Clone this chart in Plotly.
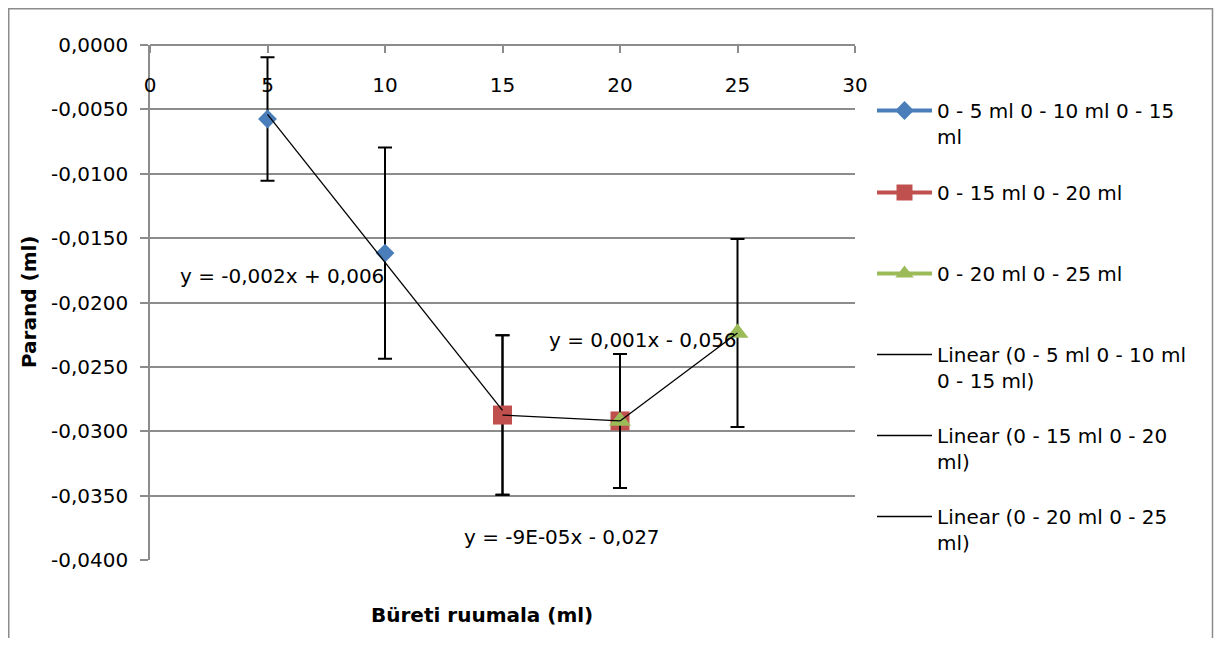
import numpy as np
import plotly.graph_objects as go

# ---- data ----
blue_name = "0 - 5 ml 0 - 10 ml 0 - 15<br>ml"
blue_x = [5, 10, 15]
blue_y = [-0.00575, -0.01616, -0.02874]
blue_err = [0.0048, 0.0082, 0.0062]

red_name = "0 - 15 ml 0 - 20 ml"
red_x = [15, 20]
red_y = [-0.02874, -0.0292]
red_err = [0.0062, 0.0052]

green_name = "0 - 20 ml 0 - 25 ml"
green_x = [20, 25]
green_y = [-0.0292, -0.02237]
green_err = [0.0052, 0.0073]

lin_names = ["Linear (0 - 5 ml 0 - 10 ml<br>0 - 15 ml)",
             "Linear (0 - 15 ml 0 - 20<br>ml)",
             "Linear (0 - 20 ml 0 - 25<br>ml)"]
eq_texts = ["y = -0,002x + 0,006", "y = -9E-05x - 0,027", "y = 0,001x - 0,056"]
eq_x = [5.62, 17.53, 20.98]
eq_y = [-0.01794, -0.03821, -0.02291]

x_ticks = [0, 5, 10, 15, 20, 25, 30]
y_ticks = [0, -0.005, -0.01, -0.015, -0.02, -0.025, -0.03, -0.035, -0.04]
y_tick_text = ["0,0000", "-0,0050", "-0,0100", "-0,0150", "-0,0200",
               "-0,0250", "-0,0300", "-0,0350", "-0,0400"]

x_title = "Büreti ruumala (ml)"
y_title = "Parand (ml)"

BLUE = "#4a7ebb"
RED = "#c0504d"
GREEN = "#9bbb59"
GRID = "#8c8c8c"
FONT = "DejaVu Sans"
FS = 20

OFF = 8  # browser body margin
W, H = 1222 - 2 * OFF, 646 - 2 * OFF
# plot area in screen pixels
SL, SR, ST, SB = 150, 855, 45, 560
L, R, T, B = SL - OFF, SR - OFF, ST - OFF, SB - OFF


def px2paper_x(px):
    return (px - SL) / (SR - SL)


def px2paper_y(py):
    return (SB - py) / (SB - ST)


fig = go.Figure()

series = [
    (blue_name, blue_x, blue_y, blue_err, BLUE, "diamond", 14.5),
    (red_name, red_x, red_y, red_err, RED, "square", 19),
    (green_name, green_x, green_y, green_err, GREEN, "triangle-up", 19),
]

legend_ids = ["legend", "legend2", "legend3", "legend4", "legend5", "legend6"]

for i, (name, xs, ys, errs, col, sym, sz) in enumerate(series):
    fig.add_trace(go.Scatter(
        x=xs, y=ys, mode="markers", name=name, showlegend=False,
        marker=dict(color=col, symbol=sym, size=sz, line=dict(width=0)),
        error_y=dict(type="data", array=errs, visible=True, color="black",
                     thickness=2, width=7),
    ))

# trendlines (least-squares fit of each series)
for i, (name, xs, ys, errs, col, sym, sz) in enumerate(series):
    k, b = np.polyfit(xs, ys, 1)
    tx = [min(xs), max(xs)]
    ty = [k * v + b for v in tx]
    fig.add_trace(go.Scatter(
        x=tx, y=ty, mode="lines", name=lin_names[i], showlegend=False,
        line=dict(color="black", width=1.3),
    ))

# legend-only entries
for i, (name, xs, ys, errs, col, sym, sz) in enumerate(series):
    fig.add_trace(go.Scatter(
        x=[None], y=[None], mode="lines+markers", name=name,
        legend=legend_ids[i],
        line=dict(color=col, width=4),
        marker=dict(color=col, symbol=sym, size=sz),
    ))
for i in range(3):
    fig.add_trace(go.Scatter(
        x=[None], y=[None], mode="lines", name=lin_names[i],
        legend=legend_ids[3 + i],
        line=dict(color="black", width=1.5),
    ))

for i in range(3):
    fig.add_annotation(x=eq_x[i], y=eq_y[i], text=eq_texts[i], showarrow=False,
                       xanchor="center", yanchor="middle",
                       font=dict(family=FONT, size=FS, color="black"))

# axis titles
fig.add_annotation(x=px2paper_x(482), y=px2paper_y(615), xref="paper", yref="paper",
                   text="<b>" + x_title + "</b>", showarrow=False,
                   xanchor="center", yanchor="middle",
                   font=dict(family=FONT, size=FS, color="black"))
fig.add_annotation(x=px2paper_x(29), y=px2paper_y(302), xref="paper", yref="paper",
                   text="<b>" + y_title + "</b>", showarrow=False, textangle=-90,
                   xanchor="center", yanchor="middle",
                   font=dict(family=FONT, size=FS, color="black"))

# outer border
fig.add_shape(type="rect", xref="paper", yref="paper",
              x0=px2paper_x(8.75), x1=px2paper_x(1212.5), y0=px2paper_y(680), y1=px2paper_y(8.75),
              line=dict(color="#8c8c8c", width=1.5), fillcolor="rgba(0,0,0,0)", layer="below")

legend_rows = [110, 192, 273, 354, 435, 516]
leg_layout = {}
for i, lid in enumerate(legend_ids):
    leg_layout[lid] = dict(
        x=px2paper_x(872), xanchor="left",
        y=px2paper_y(legend_rows[i] - 19), yanchor="top",
        bgcolor="rgba(0,0,0,0)", borderwidth=0,
        font=dict(family=FONT, size=FS, color="black"),
        valign="top", itemwidth=55,
    )

fig.update_layout(
    width=W, height=H,
    margin=dict(l=L, r=W - R, t=T, b=H - B),
    paper_bgcolor="white", plot_bgcolor="white",
    font=dict(family=FONT, size=FS, color="black"),
    showlegend=True,
    **leg_layout,
)

fig.update_xaxes(
    range=[0, 30], tickvals=x_ticks, ticktext=[str(v) for v in x_ticks],
    side="bottom", anchor="free", position=1.0,
    ticks="outside", ticklen=7, tickcolor=GRID, tickwidth=1.5,
    showline=True, linecolor=GRID, linewidth=1.5,
    showgrid=False, zeroline=False, ticklabelstandoff=15,
    tickfont=dict(family=FONT, size=FS, color="black"),
)
fig.update_yaxes(
    range=[-0.04, 0], tickvals=y_ticks, ticktext=y_tick_text,
    ticks="outside", ticklen=8, tickcolor=GRID, tickwidth=1.5,
    showline=True, linecolor=GRID, linewidth=1.5,
    showgrid=True, gridcolor=GRID, gridwidth=1.5, zeroline=False,
    ticklabelstandoff=8,
    tickfont=dict(family=FONT, size=FS, color="black"),
)

fig.write_html("out.html")
